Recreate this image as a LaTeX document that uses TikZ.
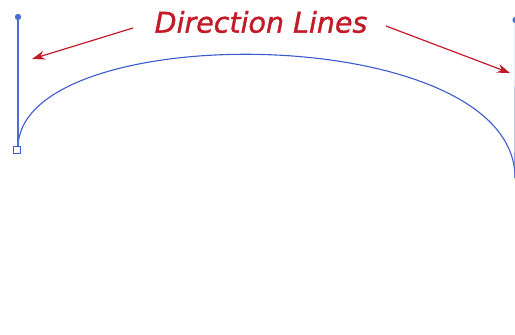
\documentclass[tikz,border=0pt]{standalone}
\usepackage{fontspec}
\setmainfont{DejaVu Sans}
\usetikzlibrary{arrows.meta}
\definecolor{lblue}{RGB}{74,112,214}
\definecolor{cblue}{RGB}{60,92,205}
\definecolor{dred}{RGB}{196,26,40}
\tikzset{
  handle/.style={draw=lblue, line width=1.2pt},
  pathline/.style={draw=cblue, line width=1.1pt},
  pointer/.style={draw=dred, line width=1.2pt, -{Stealth[length=13pt,width=9pt]}},
  label/.style={text=dred, font=\fontsize{28.5}{34}\selectfont\itshape\addfontfeature{FakeBold=1.2}, inner sep=0pt}
}
\begin{document}
\begin{tikzpicture}[x=1pt,y=-1pt]
\useasboundingbox (0,0) rectangle (515,335);
\fill[white] (0,0) rectangle (515,335);
% anchors and handles
\coordinate (A) at (18,148);
\coordinate (HA) at (18,17);
\coordinate (B) at (515,178);
\coordinate (HB) at (515.6,20);
\draw[pathline] (A) .. controls (HA) and (HB) .. (B);
\draw[handle] (A) -- (HA);
\fill[lblue] (HA) circle (3.2);
\draw[handle] (B) -- (HB);
\fill[lblue] (HB) circle (3.2);
\node[draw=cblue, fill=white, line width=0.9pt, minimum size=6.5pt, inner sep=0pt] (sqA) at (17,150) {};
% label and pointers
\node[label] (title) at (261,22) {Direction Lines};
\coordinate (p1s) at (133,28);
\coordinate (p1e) at (32,59);
\coordinate (p2s) at (386,26);
\coordinate (p2e) at (510,73);
\draw[pointer] (p1s) -- (p1e);
\draw[pointer] (p2s) -- (p2e);
\end{tikzpicture}
\end{document}
